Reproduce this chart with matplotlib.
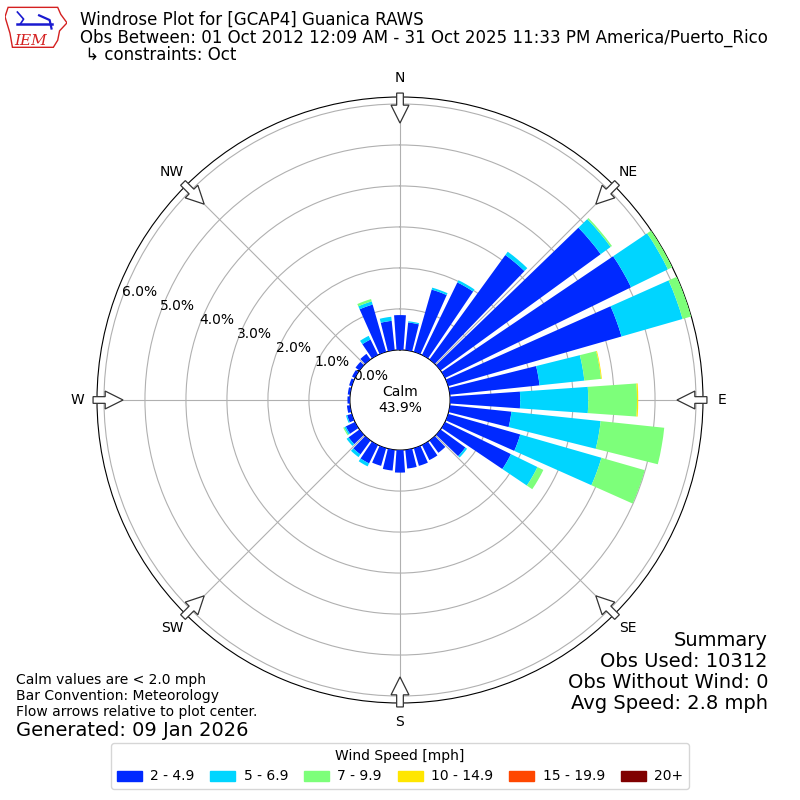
import numpy as np
import matplotlib

matplotlib.use("Agg")
import matplotlib.pyplot as plt
from matplotlib.patches import FancyArrow, Patch, Polygon

DIRECTIONS = np.arange(0, 360, 10)
SPEED_LABELS = ["2 - 4.9", "5 - 6.9", "7 - 9.9", "10 - 14.9", "15 - 19.9", "20+"]

# frequency (%) per 10 degree direction bin (0, 10, ..., 350), one list per speed bin
PCT_2 = [0.85, 0.68, 1.58, 1.97, 3.15, 4.83, 5.05, 4.40, 2.20, 1.71, 1.51, 1.83,
         1.79, 0.75, 0.37, 0.41, 0.45, 0.46, 0.55, 0.51, 0.45, 0.50, 0.42, 0.33,
         0.25, 0.12, 0.08, 0.06, 0.06, 0.07, 0.08, 0.12, 0.17, 0.42, 1.20, 0.72]
PCT_5 = [0.00, 0.03, 0.05, 0.06, 0.10, 0.30, 1.00, 1.55, 1.10, 1.66, 2.19, 2.06,
         0.72, 0.05, 0.00, 0.00, 0.00, 0.00, 0.00, 0.00, 0.00, 0.08, 0.08, 0.06,
         0.04, 0.03, 0.00, 0.00, 0.00, 0.00, 0.00, 0.00, 0.00, 0.10, 0.08, 0.10]
PCT_7 = [0.00, 0.00, 0.00, 0.00, 0.00, 0.04, 0.12, 0.22, 0.41, 1.19, 1.56, 1.10,
         0.16, 0.00, 0.00, 0.00, 0.00, 0.00, 0.00, 0.00, 0.00, 0.00, 0.00, 0.00,
         0.03, 0.00, 0.00, 0.00, 0.00, 0.00, 0.00, 0.00, 0.00, 0.00, 0.06, 0.00]
PCT_10 = [0.0] * 8 + [0.02, 0.03] + [0.0] * 26
PCT_15 = [0.0] * 36
PCT_20 = [0.0] * 36

CALM_PCT = 43.9
COMPASS = ["N", "NE", "E", "SE", "S", "SW", "W", "NW"]

fig = plt.figure(figsize=(8, 8), dpi=100)

# ---- rose
ax = fig.add_axes([97 / 800, 97 / 800, 606 / 800, 606 / 800], projection="polar")
ax.set_theta_zero_location("N")
ax.set_theta_direction(-1)

series = [PCT_2, PCT_5, PCT_7, PCT_10, PCT_15, PCT_20]
colors = plt.cm.jet(np.linspace(0, 1, 7)[1:])
theta = np.radians(DIRECTIONS)
bottom = np.zeros(len(DIRECTIONS))
for vals, col in zip(series, colors):
    vals = np.array(vals)
    ax.bar(theta, vals, width=np.radians(8), bottom=bottom, color=col,
           edgecolor="none", zorder=3)
    bottom += vals

rmax = bottom.max()
ax.set_ylim(0, rmax)
ax.set_rorigin(-rmax * 0.198)
ax.set_yticks(range(7))
ax.set_yticklabels([f"{v:.1f}%" for v in range(7)], fontsize=10)
ax.set_rlabel_position(290)
ax.set_xticks(np.radians(np.arange(0, 360, 45)))
ax.set_xticklabels(COMPASS, fontsize=10)
ax.tick_params(axis="x", pad=3.5)
ax.grid(color="#b0b0b0", lw=0.8, zorder=1)
ax.set_axisbelow(True)

fig.text(0.5, 0.5, f"Calm\n{CALM_PCT:.1f}%", ha="center", va="center", fontsize=10)

# ---- flow arrows drawn on an overlay with unit radius
ov = fig.add_axes([97 / 800, 97 / 800, 606 / 800, 606 / 800])
ov.set_xlim(-1, 1)
ov.set_ylim(-1, 1)
ov.axis("off")
for d in np.radians(np.arange(0, 360, 45)):
    r0, r1 = 1.013, 0.914
    ov.add_patch(FancyArrow(r0 * np.sin(d), r0 * np.cos(d),
                            (r1 - r0) * np.sin(d), (r1 - r0) * np.cos(d),
                            width=0.022, head_width=0.059, head_length=0.059,
                            length_includes_head=True, fc="white", ec="#333333",
                            lw=0.9, clip_on=False, zorder=5))

# ---- header
fig.text(0.1, 0.975, "Windrose Plot for [GCAP4] Guanica RAWS", fontsize=12, va="center")
fig.text(0.1, 0.9525, "Obs Between: 01 Oct 2012 12:09 AM - 31 Oct 2025 11:33 PM America/Puerto_Rico",
         fontsize=12, va="center")
fig.text(0.1, 0.931, " ↳ constraints: Oct", fontsize=12, va="center")

# rough IEM logo
lg = fig.add_axes([5 / 800, 1 - 52 / 800, 62 / 800, 47 / 800])
lg.set_xlim(0, 1)
lg.set_ylim(0, 1)
lg.axis("off")
lg.add_patch(Polygon([(0.05, 0.95), (0.85, 0.95), (0.9, 0.8), (1.0, 0.62), (0.88, 0.45),
                      (0.85, 0.25), (0.78, 0.1), (0.12, 0.1), (0.08, 0.4), (0.0, 0.75)],
                     closed=True, fc="white", ec="#d42020", lw=1.0))
lg.plot([0.2, 0.75], [0.6, 0.6], color="#1a1ad0", lw=1.8)
lg.plot([0.2, 0.3, 0.25], [0.85, 0.7, 0.6], color="#1a1ad0", lw=1.2)
lg.plot([0.55, 0.72, 0.75], [0.78, 0.68, 0.5], color="#1a1ad0", lw=1.6)
lg.text(0.15, 0.24, "IEM", color="#d42020", fontsize=11, style="italic",
        family="DejaVu Serif", va="center")

# ---- notes
fig.text(0.02, 0.13, "Calm values are < 2.0 mph\nBar Convention: Meteorology\n"
         "Flow arrows relative to plot center.", fontsize=10, va="center", linespacing=1.15)
fig.text(0.02, 0.0875, "Generated: 09 Jan 2026", fontsize=14, va="center")
fig.text(0.96, 0.16, "Summary\nObs Used: 10312\nObs Without Wind: 0\nAvg Speed: 2.8 mph",
         fontsize=14, ha="right", va="center", linespacing=1.15)

handles = [Patch(color=c) for c in colors]
fig.legend(handles, SPEED_LABELS, loc="lower center", bbox_to_anchor=(0.5, 0.005),
           ncol=6, title="Wind Speed [mph]", fontsize=10, title_fontsize=10,
           handlelength=1.8, handletextpad=0.6, columnspacing=1.15)

fig.savefig("out.png", dpi=100)
